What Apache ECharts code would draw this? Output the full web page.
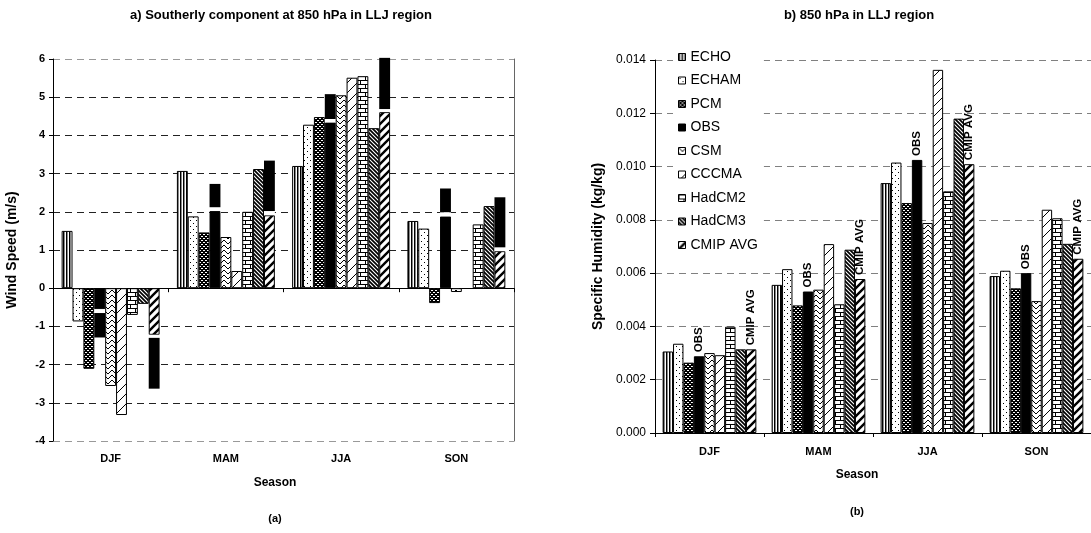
<!DOCTYPE html>
<html>
<head>
<meta charset="utf-8">
<title>LLJ region</title>
<script src="https://cdn.jsdelivr.net/npm/echarts@6/dist/echarts.min.js"></script>
<style>
  html, body { margin: 0; padding: 0; background: #fff; }
  #main { width: 1091px; height: 533px; }
</style>
</head>
<body>
<div id="main"></div>
<script>
// seasons and models
var seasons = ['DJF', 'MAM', 'JJA', 'SON'];
var models = ['ECHO', 'ECHAM', 'PCM', 'OBS', 'CSM', 'CCCMA', 'HadCM2', 'HadCM3', 'CMIP AVG'];

// a) southerly wind at 850 hPa (m/s), DJF..SON
var windECHO   = [1.50, 3.07, 3.20, 1.76];
var windECHAM  = [-0.87, 1.88, 4.28, 1.56];
var windPCM    = [-2.11, 1.46, 4.48, -0.39];
var windOBS    = [-0.55, 2.02, 4.34, 1.88];
var windCSM    = [-2.56, 1.34, 5.05, -0.10];
var windCCCMA  = [-3.32, 0.45, 5.51, null];
var windHadCM2 = [-0.70, 2.00, 5.55, 1.67];
var windHadCM3 = [-0.41, 3.12, 4.19, 2.15];
var windCMIP   = [-1.22, 1.91, 4.61, 0.97];
// black error blocks above OBS and CMIP AVG (start, end)
var obsErrLow   = [-0.65, 2.12, 4.43, 1.99];
var obsErrHigh  = [-1.29, 2.73, 5.08, 2.61];
var cmipErrLow  = [-1.30, 2.02, 4.69, 1.07];
var cmipErrHigh = [-2.63, 3.34, 6.03, 2.38];

// b) specific humidity at 850 hPa (kg/kg), DJF..SON
var qECHO   = [0.00306, 0.00556, 0.00938, 0.00589];
var qECHAM  = [0.00335, 0.00615, 0.01015, 0.00609];
var qPCM    = [0.00264, 0.00479, 0.00863, 0.00543];
var qOBS    = [0.00288, 0.00531, 0.01025, 0.00600];
var qCSM    = [0.00300, 0.00538, 0.00788, 0.00495];
var qCCCMA  = [0.00292, 0.00709, 0.01363, 0.00838];
var qHadCM2 = [0.00399, 0.00483, 0.00907, 0.00806];
var qHadCM3 = [0.00314, 0.00688, 0.01180, 0.00710];
var qCMIP   = [0.00314, 0.00578, 0.01009, 0.00654];

var windData = [windECHO, windECHAM, windPCM, windOBS, windCSM, windCCCMA, windHadCM2, windHadCM3, windCMIP];
var qData = [qECHO, qECHAM, qPCM, qOBS, qCSM, qCCCMA, qHadCM2, qHadCM3, qCMIP];

var FONT = 'Liberation Sans, Arial, sans-serif';

// black & white fill patterns like the excel original
function tile(w, h, draw) {
  var c = document.createElement('canvas');
  c.width = w; c.height = h;
  var g = c.getContext('2d');
  g.fillStyle = '#fff';
  g.fillRect(0, 0, w, h);
  g.fillStyle = '#000';
  g.strokeStyle = '#000';
  draw(g);
  return { image: c, repeat: 'repeat' };
}
function lines(g, w, segs) {
  g.lineWidth = w;
  g.beginPath();
  segs.forEach(function (s) { g.moveTo(s[0], s[1]); g.lineTo(s[2], s[3]); });
  g.stroke();
}
var patterns = [
  tile(3, 3, function (g) { g.fillRect(0, 0, 1, 3); g.fillStyle = '#888'; g.fillRect(1, 0, 1, 3); }), // ECHO
  tile(6, 6, function (g) { g.fillRect(1, 1, 1, 1); g.fillRect(4, 4, 1, 1); }), // ECHAM
  tile(4, 4, function (g) {                                                    // PCM
    g.fillRect(0, 0, 4, 4);
    g.fillStyle = '#fff';
    g.fillRect(1, 0, 2, 1); g.fillRect(3, 2, 1, 1); g.fillRect(0, 2, 1, 1);
  }),
  '#000',                                                                      // OBS
  tile(8, 5, function (g) { lines(g, 1, [[0, 0, 4, 4], [4, 4, 8, 0]]); }),     // CSM
  tile(10, 10, function (g) { lines(g, 1, [[-1, 11, 11, -1]]); }),             // CCCMA
  tile(10, 8, function (g) {                                                   // HadCM2
    g.fillRect(0, 0, 10, 1); g.fillRect(0, 4, 10, 1);
    g.fillRect(0, 0, 1, 4); g.fillRect(5, 4, 1, 4);
  }),
  tile(4, 4, function (g) { lines(g, 1.7, [[-1, -1, 5, 5], [-1, 3, 1, 5], [3, -1, 5, 1]]); }), // HadCM3
  tile(8, 8, function (g) { lines(g, 2.4, [[-1, 9, 9, -1], [-1, 1, 1, -1], [7, 9, 9, 7]]); })  // CMIP AVG
];

var series = [];
models.forEach(function (name, i) {
  var s = {
    name: name,
    type: 'bar',
    xAxisIndex: 0,
    yAxisIndex: 0,
    barGap: '0%',
    barCategoryGap: '15%',
    itemStyle: { color: patterns[i], borderColor: '#000', borderWidth: 1 },
    data: windData[i]
  };
  if (name === 'OBS' || name === 'CMIP AVG') {
    var key = name === 'OBS' ? 'obs' : 'cmip';
    var lo = name === 'OBS' ? obsErrLow : cmipErrLow;
    var hi = name === 'OBS' ? obsErrHigh : cmipErrHigh;
    s.stack = key;
    series.push(s);
    // gap between bar and block, then the black block itself
    series.push({
      name: key + 'Gap', type: 'bar', stack: key, xAxisIndex: 0, yAxisIndex: 0,
      barGap: '0%', barCategoryGap: '15%', silent: true,
      itemStyle: { color: '#fff', borderWidth: 0 },
      data: lo.map(function (v, k) { return +(v - windData[i][k]).toFixed(3); })
    });
    series.push({
      name: key + 'Err', type: 'bar', stack: key, xAxisIndex: 0, yAxisIndex: 0,
      barGap: '0%', barCategoryGap: '15%', silent: true, clip: false,
      itemStyle: { color: '#000', borderWidth: 0 },
      data: hi.map(function (v, k) { return +(v - lo[k]).toFixed(3); })
    });
  } else {
    series.push(s);
  }
});
models.forEach(function (name, i) {
  var s = {
    name: name,
    type: 'bar',
    xAxisIndex: 2,
    yAxisIndex: 2,
    barGap: '0%',
    barCategoryGap: '14%',
    itemStyle: { color: patterns[i], borderColor: '#000', borderWidth: 1 },
    data: qData[i]
  };
  if (name === 'OBS' || name === 'CMIP AVG') {
    s.label = {
      show: true, position: 'top', rotate: 90, distance: 4,
      align: 'left', verticalAlign: 'middle',
      formatter: name, color: '#000', fontWeight: 'bold', fontSize: 11.5, fontFamily: FONT
    };
  }
  series.push(s);
});

var gridDash = [7, 5];
var leftSplitColors = ['#999', '#222', '#222', '#222', '#222', '#222', '#222', '#222', '#222', '#222', '#999'];

var option = {
  animation: false,
  backgroundColor: '#fff',
  textStyle: { fontFamily: FONT },
  grid: [
    { left: 53, top: 59, width: 461, height: 382 },
    { left: 655, top: 60, width: 437, height: 373 }
  ],
  legend: {
    data: models,
    orient: 'vertical',
    left: 673,
    top: 48,
    itemWidth: 7,
    itemHeight: 7,
    itemGap: 9.5,
    icon: 'rect',
    selectedMode: false,
    backgroundColor: '#fff',
    padding: [2, 6, 2, 5],
    itemStyle: { borderColor: '#000', borderWidth: 1 },
    textStyle: { fontSize: 14, color: '#000', fontFamily: FONT }
  },
  xAxis: [
    {
      gridIndex: 0, type: 'category', data: seasons, position: 'bottom',
      axisLine: { show: false, onZero: false },
      axisTick: { show: false },
      axisLabel: { fontSize: 11, fontWeight: 'bold', color: '#000', margin: 12 }
    },
    {
      gridIndex: 0, type: 'category', data: seasons, position: 'bottom',
      axisLine: { show: true, onZero: true, lineStyle: { color: '#000', width: 1 } },
      axisTick: { show: true, length: 4, lineStyle: { color: '#000' } },
      axisLabel: { show: false }
    },
    {
      gridIndex: 1, type: 'category', data: seasons, position: 'bottom',
      axisLine: { show: true, lineStyle: { color: '#000', width: 1 } },
      axisTick: { show: true, length: 4, lineStyle: { color: '#000' } },
      axisLabel: { fontSize: 11, fontWeight: 'bold', color: '#000', margin: 13 }
    }
  ],
  yAxis: [
    {
      gridIndex: 0, type: 'value', min: -4, max: 6, interval: 1,
      name: 'Wind Speed (m/s)', nameLocation: 'middle', nameGap: 34,
      nameTextStyle: { fontSize: 14, fontWeight: 'bold', color: '#000', fontFamily: FONT },
      axisLine: { show: true, lineStyle: { color: '#000' } },
      axisTick: { show: true, length: 4, lineStyle: { color: '#000' } },
      axisLabel: { fontSize: 11, fontWeight: 'bold', color: '#000', margin: 8 },
      splitLine: { show: true, lineStyle: { color: leftSplitColors, type: gridDash, width: 1 } }
    },
    {
      gridIndex: 0, type: 'value', min: -4, max: 6, interval: 1, position: 'right',
      axisLine: { show: true, lineStyle: { color: '#666' } },
      axisTick: { show: false },
      axisLabel: { show: false },
      splitLine: { show: false }
    },
    {
      gridIndex: 1, type: 'value', min: 0, max: 0.014, interval: 0.002,
      name: 'Specific Humidity (kg/kg)', nameLocation: 'middle', nameGap: 50,
      nameTextStyle: { fontSize: 14, fontWeight: 'bold', color: '#000', fontFamily: FONT },
      axisLine: { show: true, lineStyle: { color: '#000' } },
      axisTick: { show: true, length: 5, lineStyle: { color: '#000' } },
      axisLabel: {
        fontSize: 12, color: '#000', margin: 9,
        formatter: function (v) { return v.toFixed(3); }
      },
      splitLine: { show: true, lineStyle: { color: '#808080', type: gridDash, width: 1 } }
    }
  ],
  graphic: [
    { type: 'text', x: 281, y: 15, style: { text: 'a) Southerly component at 850 hPa in LLJ region', font: 'bold 13px ' + FONT, fill: '#000', align: 'center', verticalAlign: 'middle' } },
    { type: 'text', x: 859, y: 15, style: { text: 'b) 850 hPa in LLJ region', font: 'bold 13px ' + FONT, fill: '#000', align: 'center', verticalAlign: 'middle' } },
    { type: 'text', x: 275, y: 483, style: { text: 'Season', font: 'bold 12px ' + FONT, fill: '#000', align: 'center', verticalAlign: 'middle' } },
    { type: 'text', x: 857, y: 475, style: { text: 'Season', font: 'bold 12px ' + FONT, fill: '#000', align: 'center', verticalAlign: 'middle' } },
    { type: 'text', x: 275, y: 519, style: { text: '(a)', font: 'bold 11px ' + FONT, fill: '#000', align: 'center', verticalAlign: 'middle' } },
    { type: 'text', x: 857, y: 512, style: { text: '(b)', font: 'bold 11px ' + FONT, fill: '#000', align: 'center', verticalAlign: 'middle' } }
  ],
  series: series
};

var chart = echarts.init(document.getElementById('main'), null, { renderer: 'canvas' });
chart.setOption(option);
</script>
</body>
</html>
